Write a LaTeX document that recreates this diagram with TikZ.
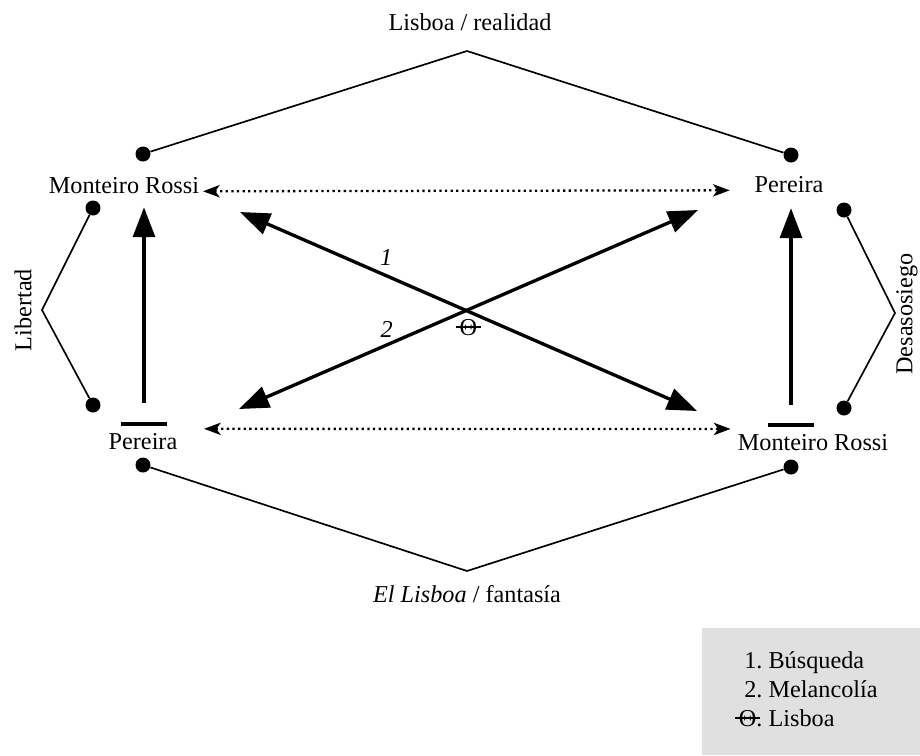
\documentclass[tikz,border=0pt]{standalone}
\usepackage{fontspec}
\setmainfont{Liberation Serif}
\usetikzlibrary{arrows.meta, calc, positioning}
\definecolor{gleg}{HTML}{E0E0E0}
\newcommand{\tachth}{\ooalign{\hidewidth\rule[0.3em]{1.05em}{0.075em}\hidewidth\cr\hfil Θ\hfil\cr}}

\begin{document}
\begin{tikzpicture}[x=0.02cm, y=-0.02cm,
            font=\fontsize{13.8}{16.5}\selectfont,
            pt/.style={circle, fill, inner sep=0pt, minimum size=0.3cm},
            trait/.style={line width=0.95pt},
            fleche/.style={line width=1.9pt, -{Triangle[length=17pt, width=12.5pt]}},
            dfleche/.style={line width=1.9pt, {Triangle[length=17pt, width=12.5pt]}-{Triangle[length=17pt, width=12.5pt]}},
            pointil/.style={line width=1.3pt, dash pattern=on 1.3pt off 1.9pt,
                {Stealth[length=9.5pt, width=7pt, inset=2.5pt]}-{Stealth[length=9.5pt, width=7pt, inset=2.5pt]}},
            barre/.style={fill, inner sep=0pt, minimum width=0.92cm, minimum height=0.07cm}]
        \tikzstyle{every node}=[inner sep=2pt]
        \useasboundingbox (0,0) rectangle (920,755);
        \node (real) at (470,22) {Lisboa / realidad};
        \node (fant) at (467,594) {\textit{El Lisboa} / fantasía};
        \node (mrA) at (124,186) {Monteiro Rossi};
        \node (peA) at (789,185) {Pereira};
        \node (peB) at (143,442) {Pereira};
        \node (mrB) at (813,443) {Monteiro Rossi};
        \node[rotate=90] (lib) at (23,310) {Libertad};
        \node[rotate=90] (des) at (907,314) {Desasosiego};
        \node[pt] (hg) at (143,154) {};
        \node[pt] (hd) at (791,155) {};
        \node[pt] (bg) at (143,465) {};
        \node[pt] (bd) at (791,467) {};
        \node[pt] (lh) at (93,208) {};
        \node[pt] (lb) at (93,405) {};
        \node[pt] (dh) at (844,210) {};
        \node[pt] (db) at (844,408) {};
        \coordinate (sr) at (467,51);
        \coordinate (sf) at (467,571);
        \coordinate (sl) at (42,310);
        \coordinate (sd) at (895,313);
        \draw[trait] (hg) -- (sr) -- (hd);
        \draw[trait] (bg) -- (sf) -- (bd);
        \draw[trait] (lh) -- (sl) -- (lb);
        \draw[trait] (dh) -- (sd) -- (db);
        \node[barre] (bA) at (144,424) {};
        \node[barre] (bB) at (791,425) {};
        \draw[fleche, shorten <=11pt, shorten >=5.3pt] (bA.north) -- (bA.north |- mrA.south);
        \draw[fleche, shorten <=10.4pt, shorten >=6.4pt] (bB.north) -- (bB.north |- peA.south);
        \draw[pointil, shorten >=12pt] ([yshift=-3pt]mrA.east) -- ([yshift=-3pt]peA.west);
        \draw[pointil, shorten <=13pt, shorten >=2pt] ([yshift=7.5pt]peB.east) -- ([yshift=8pt]mrB.west);
        \coordinate (d1a) at (240,212);
        \coordinate (d1b) at (697,411);
        \coordinate (d2a) at (239,409);
        \coordinate (d2b) at (698,210);
        \draw[dfleche] (d1a) -- node[pos=0.32, above=3pt] {\textit{1}} (d1b);
        \draw[dfleche] (d2a) -- node[pos=0.322, above=1.5pt] {\textit{2}} (d2b);
        \node[below=6pt] (th) at ($(d1a)!0.5!(d1b)$) {\tachth};
        \node[fill=gleg, inner sep=0pt, minimum width=4.36cm, minimum height=2.54cm] (leg) at (811,691.5) {};
        \node[right=21pt of leg.west, inner sep=0pt] (legt) {\begin{tabular}{@{}r@{\ }l@{}}1. & Búsqueda\\ 2. & Melancolía\\ \tachth. & Lisboa\end{tabular}};
    \end{tikzpicture}
\end{document}
